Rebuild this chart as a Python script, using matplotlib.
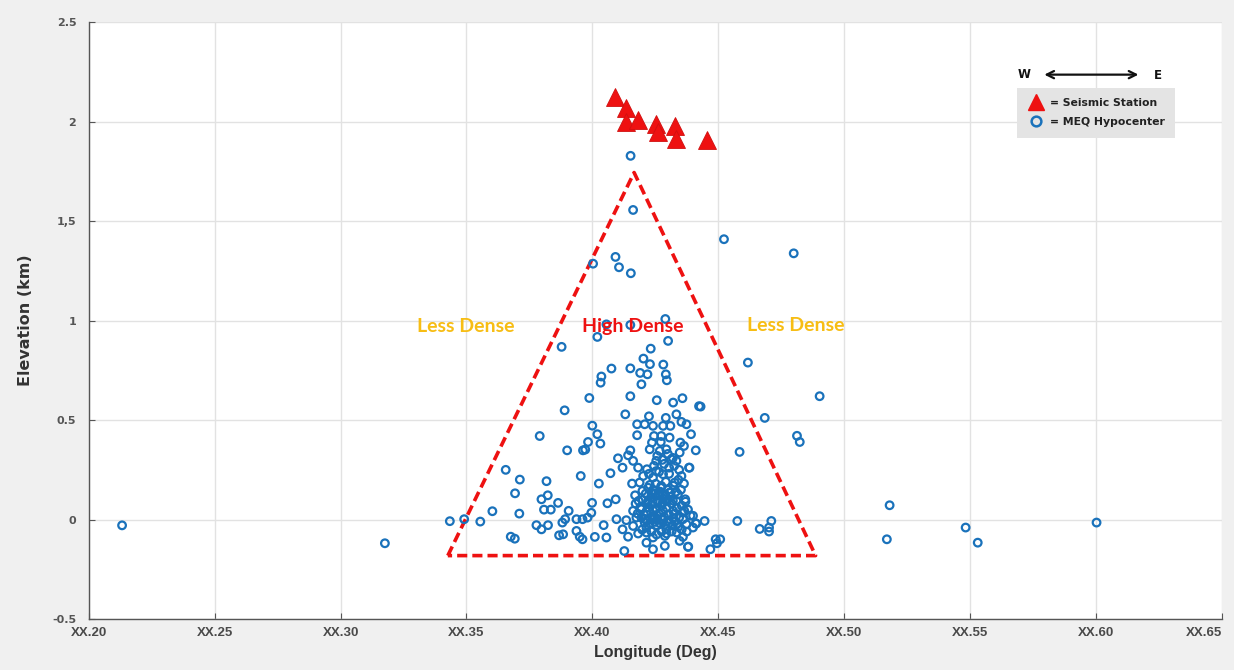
import numpy as np
import matplotlib
matplotlib.use("Agg")
import matplotlib.pyplot as plt
from matplotlib.lines import Line2D

# Estaciones sísmicas (triángulos rojos)
station_lon = [0.4089, 0.4135, 0.4135, 0.4180, 0.4252, 0.4260, 0.4327, 0.4331, 0.4454]
station_elev = [2.126, 2.067, 1.998, 2.010, 1.990, 1.950, 1.980, 1.915, 1.910]

# Hipocentros MEQ (círculos azules)
hypo_lon = [
    0.2132, 0.3176, 0.3434, 0.5181, 0.5170, 0.5483, 0.5531, 0.6003,
    0.4523, 0.4800, 0.4618, 0.4903, 0.4685, 0.4813, 0.4824, 0.4585,
    0.4430, 0.4446, 0.4576, 0.4711, 0.4665, 0.4702, 0.4702, 0.4490, 0.4508, 0.4495, 0.4469,
    0.4411, 0.4384, 0.4381,
    0.4152, 0.4162, 0.4003, 0.4092, 0.4106, 0.4153, 0.4290, 0.4151, 0.4056, 0.4020,
    0.4301, 0.3878, 0.4232, 0.4203, 0.4229, 0.4282, 0.4076, 0.4151, 0.4190, 0.4219,
    0.4292, 0.4296, 0.4036, 0.4033, 0.4195, 0.3988, 0.4151, 0.4256, 0.4321, 0.4358,
    0.4424, 0.3890, 0.4131, 0.4225, 0.4292, 0.4334, 0.4354, 0.4374, 0.4178, 0.4208,
    0.4241, 0.4281, 0.4310, 0.4000, 0.4020, 0.3791, 0.4392, 0.4178, 0.4245, 0.4274,
    0.4307, 0.3983, 0.4032, 0.4237, 0.4272, 0.4350, 0.4364, 0.3900, 0.3963, 0.3972,
    0.4151, 0.4228, 0.4268, 0.4294, 0.4411, 0.4347, 0.4142, 0.4102, 0.4162, 0.4254,
    0.4314, 0.4334, 0.3656, 0.4120, 0.4182, 0.4217, 0.4254, 0.4305, 0.4386, 0.3954,
    0.4072, 0.4202, 0.4241, 0.4281, 0.4354, 0.3712, 0.3818, 0.4026, 0.4158, 0.4188,
    0.4228, 0.4274, 0.4327, 0.4364, 0.3693, 0.3823, 0.3798, 0.4170, 0.4199, 0.4235,
    0.4268, 0.4307, 0.4340, 0.4369, 0.3864, 0.3999, 0.4060, 0.4093, 0.4184, 0.4222,
    0.4261, 0.4294, 0.4334, 0.3603, 0.3710, 0.3808, 0.3835, 0.3906, 0.3996, 0.4162,
    0.4195, 0.4241, 0.4281, 0.4321, 0.4360, 0.3491, 0.3555, 0.3892, 0.3937, 0.3961,
    0.3981, 0.4096, 0.4135, 0.4175, 0.4208, 0.4244, 0.4281, 0.4321, 0.4360, 0.4400,
    0.4413, 0.3778, 0.3798, 0.3824, 0.3881, 0.3937, 0.4045, 0.4120, 0.4162, 0.4215,
    0.4255, 0.4294, 0.4341, 0.4374, 0.3676, 0.3692, 0.3868, 0.3884, 0.3950, 0.3961,
    0.4010, 0.4056, 0.4142, 0.4182, 0.4215, 0.4241, 0.4288, 0.4347, 0.4360, 0.4127,
    0.4241, 0.4288, 0.4380,
    0.4195, 0.4205, 0.4215, 0.4225, 0.4235, 0.4245, 0.4255, 0.4265, 0.4275, 0.4285,
    0.4295, 0.4305, 0.4315, 0.4325, 0.4335, 0.4345, 0.4355, 0.4365,
    0.4200, 0.4212, 0.4222, 0.4232, 0.4242, 0.4252, 0.4262, 0.4272, 0.4282, 0.4292,
    0.4302, 0.4312, 0.4322, 0.4332, 0.4342, 0.4352,
    0.4208, 0.4218, 0.4228, 0.4238, 0.4248, 0.4258, 0.4268, 0.4278, 0.4288, 0.4298,
    0.4308, 0.4318, 0.4328, 0.4338,
    0.4225, 0.4245, 0.4265, 0.4285, 0.4305, 0.4325, 0.4345, 0.4258, 0.4278, 0.4300, 0.4320,
    0.4190, 0.4180, 0.4172, 0.4370, 0.4380, 0.4390, 0.4400, 0.4375, 0.4355, 0.4335,
    0.4315, 0.4295, 0.4275, 0.4255, 0.4235, 0.4215, 0.4198,
    0.4240, 0.4260, 0.4280, 0.4300, 0.4320, 0.4220, 0.4250, 0.4270, 0.4290, 0.4310,
]
hypo_elev = [
    -0.029, -0.119, -0.008, 0.072, -0.099, -0.040, -0.116, -0.015,
    1.409, 1.338, 0.789, 0.620, 0.511, 0.421, 0.390, 0.340,
    0.568, -0.007, -0.007, -0.007, -0.047, -0.040, -0.060, -0.099, -0.099, -0.119, -0.149,
    -0.019, 0.261, -0.136,
    1.828, 1.556, 1.286, 1.320, 1.268, 1.238, 1.008, 0.978, 0.981, 0.918,
    0.898, 0.868, 0.859, 0.809, 0.781, 0.779, 0.759, 0.760, 0.737, 0.730,
    0.730, 0.700, 0.719, 0.688, 0.680, 0.611, 0.620, 0.600, 0.588, 0.610,
    0.570, 0.549, 0.529, 0.519, 0.511, 0.529, 0.491, 0.479, 0.479, 0.479,
    0.471, 0.471, 0.471, 0.472, 0.429, 0.420, 0.429, 0.424, 0.420, 0.420,
    0.412, 0.390, 0.382, 0.387, 0.390, 0.387, 0.370, 0.348, 0.348, 0.352,
    0.348, 0.353, 0.345, 0.353, 0.348, 0.337, 0.323, 0.308, 0.295, 0.295,
    0.303, 0.295, 0.250, 0.261, 0.261, 0.253, 0.244, 0.261, 0.261, 0.219,
    0.233, 0.219, 0.211, 0.228, 0.219, 0.201, 0.193, 0.181, 0.181, 0.186,
    0.174, 0.169, 0.186, 0.181, 0.132, 0.122, 0.102, 0.122, 0.144, 0.136,
    0.127, 0.136, 0.127, 0.102, 0.084, 0.084, 0.082, 0.102, 0.094, 0.094,
    0.085, 0.094, 0.094, 0.042, 0.030, 0.050, 0.050, 0.044, 0.034, 0.044,
    0.052, 0.047, 0.044, 0.044, 0.035, 0.002, -0.010, 0.002, 0.002, 0.002,
    0.010, 0.002, -0.003, 0.010, 0.002, 0.010, 0.002, 0.007, 0.002, 0.019,
    -0.020, -0.028, -0.049, -0.028, -0.015, -0.057, -0.028, -0.049, -0.032, -0.040,
    -0.028, -0.049, -0.037, -0.024, -0.086, -0.096, -0.079, -0.074, -0.086, -0.099,
    -0.087, -0.090, -0.086, -0.070, -0.116, -0.090, -0.082, -0.107, -0.087, -0.158,
    -0.149, -0.132, -0.137,
    0.010, 0.025, 0.040, 0.060, 0.075, 0.020, 0.055, 0.030, 0.070, 0.015,
    0.060, 0.025, 0.080, 0.030, 0.060, 0.010, 0.070, 0.045,
    0.100, 0.130, 0.160, 0.110, 0.150, 0.180, 0.120, 0.160, 0.105, 0.190,
    0.150, 0.115, 0.170, 0.140, 0.200, 0.150,
    -0.015, -0.005, -0.020, 0.000, -0.012, 0.005, -0.018, -0.002, -0.025, -0.008,
    -0.015, -0.030, -0.010, -0.020,
    0.230, 0.270, 0.240, 0.280, 0.230, 0.270, 0.250, 0.320, 0.300, 0.330, 0.310,
    0.060, 0.030, 0.080, 0.090, 0.050, 0.020, -0.040, -0.060, -0.050, -0.065,
    -0.060, -0.070, -0.060, -0.075, -0.060, -0.065, -0.050,
    0.090, 0.095, 0.085, 0.100, 0.095, 0.085, 0.130, 0.140, 0.125, 0.135,
]

# Triángulo de zona densa
tri_lon = [0.3426, 0.4166, 0.4887, 0.3426]
tri_elev = [-0.181, 1.744, -0.181, -0.181]

xticks = [0.20, 0.25, 0.30, 0.35, 0.40, 0.45, 0.50, 0.55, 0.60, 0.65]
xtick_labels = ["XX.20", "XX.25", "XX.30", "XX.35", "XX.40", "XX.45", "XX.50", "XX.55", "XX.60", "XX.65"]
yticks = [-0.5, 0, 0.5, 1, 1.5, 2, 2.5]
ytick_labels = ["-0.5", "0", "0.5", "1", "1,5", "2", "2.5"]

blue = '#1a72bb'
red = '#ee1111'
gold = '#f7bd14'

fig = plt.figure(figsize=(12.34, 6.70), dpi=100)
fig.patch.set_facecolor('#f0f0f0')
ax = fig.add_axes([0.072, 0.076, 0.918, 0.891])
ax.set_facecolor('white')

ax.grid(True, color='#e2e2e2', linewidth=1.0)
ax.set_axisbelow(True)

ax.plot(tri_lon, tri_elev, color=red, linewidth=2.6, linestyle=(0, (2.8, 1.4)), zorder=2)

ax.scatter(hypo_lon, hypo_elev, s=30, facecolors='none', edgecolors=blue, linewidths=1.6, zorder=3)
ax.plot(station_lon, station_elev, '^', color=red, markersize=13, markeredgecolor='#d01010',
        markeredgewidth=0.6, linestyle='none', zorder=4)

ax.text(0.3497, 0.97, "Less Dense", color=gold, fontsize=14, fontweight='bold',
        family='Lato', ha='center', va='center', zorder=5)
ax.text(0.4160, 0.97, "High Dense", color=red, fontsize=14, fontweight='bold',
        family='Lato', ha='center', va='center', zorder=5)
ax.text(0.4808, 0.975, "Less Dense", color=gold, fontsize=14, fontweight='bold',
        family='Lato', ha='center', va='center', zorder=5)

ax.set_xlim(0.20, 0.65)
ax.set_ylim(-0.5, 2.5)
ax.set_xticks(xticks)
ax.set_xticklabels(xtick_labels, family='Liberation Sans', fontsize=9.5,
                   color='#4a4a4a', fontweight='bold')
ax.get_xticklabels()[-1].set_horizontalalignment('right')
ax.set_yticks(yticks)
ax.set_yticklabels(ytick_labels, fontsize=8, color='#555555', fontweight='bold')
ax.tick_params(axis='both', direction='in', length=4, color='#555555')
ax.tick_params(axis='y', pad=9)
ax.tick_params(axis='x', pad=6)

for side in ['top', 'right']:
    ax.spines[side].set_visible(False)
for side in ['left', 'bottom']:
    ax.spines[side].set_color('#555555')
    ax.spines[side].set_linewidth(1.0)

ax.set_xlabel("Longitude (Deg)", family='Liberation Sans',
              fontsize=11.5, fontweight='bold', color='#333333')
ax.set_ylabel("Elevation (km)", fontsize=11.5, fontweight='bold', color='#333333')
ax.yaxis.set_label_coords(-0.049, 0.5)
ax.xaxis.set_label_coords(0.5, -0.043)

# Flecha W <-> E
ax.text(0.826, 0.913, "W", transform=ax.transAxes, fontsize=8.5, fontweight='bold',
        ha='center', va='center', color='#111111')
ax.text(0.9435, 0.911, "E", transform=ax.transAxes, fontsize=8.5, fontweight='bold',
        ha='center', va='center', color='#111111')
ax.annotate("", xy=(0.929, 0.912), xytext=(0.841, 0.912), xycoords='axes fraction',
            arrowprops=dict(arrowstyle='<->', color='#111111', lw=1.6, mutation_scale=13))

handles = [
    Line2D([], [], marker='^', color=red, markersize=11, linestyle='none'),
    Line2D([], [], marker='o', markerfacecolor='none', markeredgecolor=blue,
           markeredgewidth=1.8, markersize=7, linestyle='none'),
]
leg = ax.legend(handles, ["= Seismic Station", "= MEQ Hypocenter"], loc='upper left',
                bbox_to_anchor=(0.819, 0.890), frameon=True, fancybox=False,
                prop={'size': 7.8, 'weight': 'bold'}, handletextpad=0.5,
                handlelength=1.6, borderpad=0.95, labelspacing=0.85, borderaxespad=0)
leg.get_frame().set_facecolor('#e4e4e4')
leg.get_frame().set_edgecolor('none')
leg.get_frame().set_alpha(1)
for t in leg.get_texts():
    t.set_color('#222222')

fig.savefig("out.png", dpi=100, facecolor=fig.get_facecolor())
